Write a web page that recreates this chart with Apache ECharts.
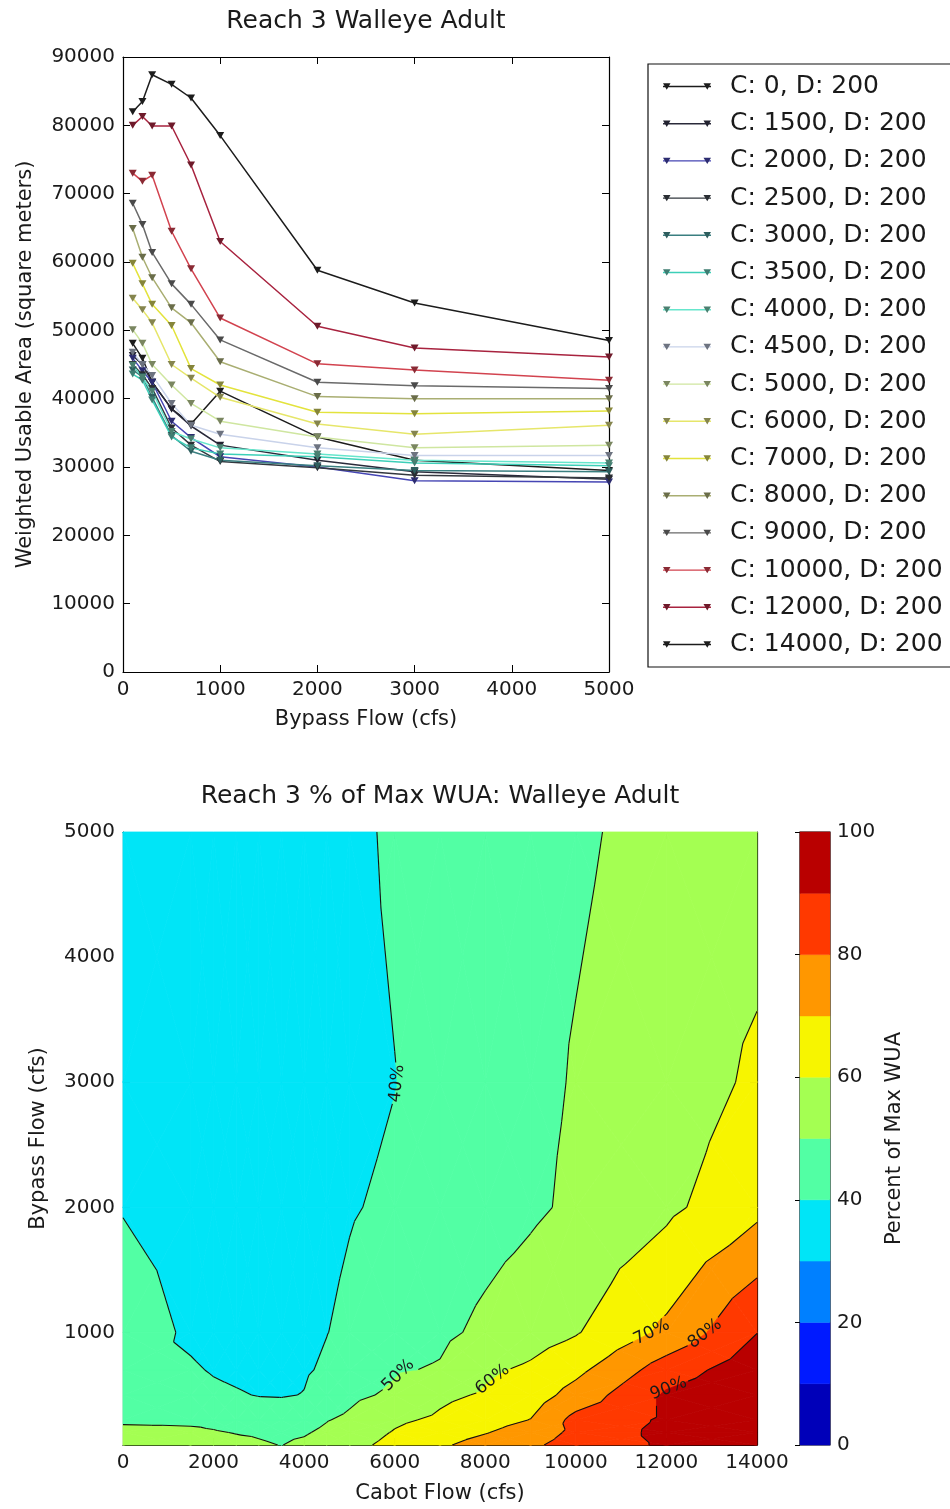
<!DOCTYPE html>
<html><head><meta charset="utf-8">
<script src="https://cdn.jsdelivr.net/npm/echarts@6/dist/echarts.min.js"></script>
<style>html,body{margin:0;padding:0;background:#fff}#c{width:950px;height:1509px}</style>
</head><body><div id="c"></div>
<script>
// ---------------- data ----------------
const bypassFlows = [100, 200, 300, 500, 700, 1000, 2000, 3000, 5000];
const cabotFlows = [0, 1500, 2000, 2500, 3000, 3500, 4000, 4500, 5000, 6000, 7000, 8000, 9000, 10000, 12000, 14000];
const seriesNames = cabotFlows.map(c => 'C: ' + c + ', D: 200');

const wuaC0     = [48100, 45900, 42400, 38500, 36300, 41100, 34400, 31000, 29500];
const wuaC1500  = [46300, 45000, 42400, 38500, 36000, 33200, 31000, 29300, 28200];
const wuaC2000  = [45900, 44100, 42400, 36700, 34300, 31500, 30000, 28000, 27800];
const wuaC2500  = [45000, 43500, 41500, 35700, 33200, 30800, 29900, 28800, 28400];
const wuaC3000  = [44200, 43200, 40200, 34600, 32300, 31000, 30200, 29500, 29300];
const wuaC3500  = [43600, 42700, 39800, 34400, 32800, 31900, 31500, 30600, 30200];
const wuaC4000  = [44900, 43100, 41100, 35200, 34100, 32800, 31900, 31000, 30600];
const wuaC4500  = [46800, 45000, 43400, 39300, 36100, 34800, 32800, 31700, 31700];
const wuaC5000  = [50100, 48100, 45000, 42000, 39300, 36700, 34400, 32800, 33200];
const wuaC6000  = [54700, 53000, 51100, 45000, 43000, 40200, 36300, 34800, 36100];
const wuaC7000  = [59800, 56800, 53800, 50700, 44400, 42000, 38000, 37800, 38200];
const wuaC8000  = [64900, 60700, 57700, 53300, 51100, 45400, 40300, 40000, 40000];
const wuaC9000  = [68600, 65500, 61400, 56800, 53800, 48600, 42400, 41900, 41500];
const wuaC10000 = [73000, 71800, 72700, 64500, 59000, 51800, 45100, 44200, 42700];
const wuaC12000 = [80000, 81300, 79900, 79900, 74200, 63000, 50600, 47400, 46100];
const wuaC14000 = [82000, 83500, 87400, 86000, 84000, 78500, 58800, 54000, 48500];
const wuaByCabot = [wuaC0, wuaC1500, wuaC2000, wuaC2500, wuaC3000, wuaC3500, wuaC4000, wuaC4500,
  wuaC5000, wuaC6000, wuaC7000, wuaC8000, wuaC9000, wuaC10000, wuaC12000, wuaC14000];

const contourLevels = [0, 10, 20, 30, 40, 50, 60, 70, 80, 90, 100];
const contourLineLevels = [40, 50, 60, 70, 80, 90];
const bypassTicksBottom = [1000, 2000, 3000, 4000, 5000];

// ---------------- styles ----------------
const FONT = '"DejaVu Sans", "Bitstream Vera Sans", sans-serif';
const TXT = '#1a1a1a';
const lineColors = ['#1c1c1c', '#2a2a3a', '#4646b4', '#33383f', '#3a7f80', '#3ccfb8', '#66e6cc', '#c9d3ea',
  '#cfe6a0', '#e6e66a', '#e3e33c', '#a9ae72', '#6a6a6a', '#d2434f', '#a8233f', '#1c1c1c'];
const markerColors = ['#1c1c1c', '#222230', '#2c2c70', '#2a2e33', '#2e5e5e', '#3f7d72', '#4a8070', '#6d7380',
  '#7a8660', '#85854e', '#85853a', '#6a6d4a', '#4a4a4a', '#8a2a34', '#6e1a2a', '#1c1c1c'];
const bandColors = ['#0000b9', '#001aff', '#0080ff', '#00e5f7', '#52ffa4', '#a4ff52', '#f7f500', '#ff9700', '#ff3900', '#b90000'];
const labelSpots = [
  { level: 40, c: 6050, b: 2990 },
  { level: 50, c: 6230, b: 600 },
  { level: 60, c: 8210, b: 600 },
  { level: 70, c: 11750, b: 980 },
  { level: 80, c: 12870, b: 980 },
  { level: 90, c: 12080, b: 520 }
];
// legend icons: 48x25 boxes (tiny corner specks fix the bounding box)
const SPECKS = 'M0,0L0.01,0L0,0.01Z M47.99,25L48,25L48,24.99Z ';
const iconLine = 'path://' + SPECKS + 'M0,11.8L48,11.8L48,13.2L0,13.2Z';
const iconMarkers = 'path://' + SPECKS + 'M0,9.3L7.5,9.3L3.75,15.7Z M40.5,9.3L48,9.3L44.25,15.7Z';

// ---------------- contour helpers ----------------
function clipPoly(poly, level, keepAbove) {
  const out = [];
  for (let k = 0; k < poly.length; k++) {
    const a = poly[k], b = poly[(k + 1) % poly.length];
    const ina = keepAbove ? a.v >= level : a.v < level;
    const inb = keepAbove ? b.v >= level : b.v < level;
    if (ina) out.push(a);
    if (ina !== inb) {
      const t = (level - a.v) / (b.v - a.v);
      out.push({ x: a.x + t * (b.x - a.x), y: a.y + t * (b.y - a.y), v: level });
    }
  }
  return out;
}
function triSegment(tri, L) {
  const pts = [];
  for (let k = 0; k < 3; k++) {
    const a = tri[k], b = tri[(k + 1) % 3];
    if ((a.v < L) !== (b.v < L)) {
      const t = (L - a.v) / (b.v - a.v);
      pts.push({ x: a.x + t * (b.x - a.x), y: a.y + t * (b.y - a.y) });
    }
  }
  return pts.length === 2 ? pts : null;
}
function outsideCircle(p, q, c, r) {
  const dx = q[0] - p[0], dy = q[1] - p[1];
  const fx = p[0] - c[0], fy = p[1] - c[1];
  const a = dx * dx + dy * dy, b = 2 * (fx * dx + fy * dy), cc = fx * fx + fy * fy - r * r;
  const disc = b * b - 4 * a * cc;
  if (a === 0 || disc <= 0) return [[p, q]];
  const s = Math.sqrt(disc);
  const t1 = (-b - s) / (2 * a), t2 = (-b + s) / (2 * a);
  if (t2 <= 0 || t1 >= 1) return [[p, q]];
  const lerp = t => [p[0] + dx * t, p[1] + dy * t];
  const out = [];
  if (t1 > 0) out.push([p, lerp(t1)]);
  if (t2 < 1) out.push([lerp(t2), q]);
  return out;
}

function renderContour(params, api) {
  const maxV = Math.max(...wuaByCabot.map(r => Math.max(...r)));
  const P = wuaByCabot.map(r => r.map(v => v / maxV * 100));
  const fills = [];
  const segs = {};
  contourLineLevels.forEach(L => segs[L] = []);
  for (let i = 0; i < cabotFlows.length - 1; i++) {
    for (let j = 0; j < bypassFlows.length - 1; j++) {
      const c0 = cabotFlows[i], c1 = cabotFlows[i + 1], b0 = bypassFlows[j], b1 = bypassFlows[j + 1];
      const A = { x: c0, y: b0, v: P[i][j] }, B = { x: c1, y: b0, v: P[i + 1][j] };
      const C = { x: c1, y: b1, v: P[i + 1][j + 1] }, D = { x: c0, y: b1, v: P[i][j + 1] };
      const M = { x: (c0 + c1) / 2, y: (b0 + b1) / 2, v: (A.v + B.v + C.v + D.v) / 4 };
      [[A, B, M], [B, C, M], [C, D, M], [D, A, M]].forEach(tri => {
        for (let k = 0; k < bandColors.length; k++) {
          const lo = k === 0 ? -Infinity : contourLevels[k];
          const hi = k === bandColors.length - 1 ? Infinity : contourLevels[k + 1];
          let poly = tri;
          if (lo !== -Infinity) poly = clipPoly(poly, lo, true);
          if (poly.length >= 3 && hi !== Infinity) poly = clipPoly(poly, hi, false);
          if (poly.length >= 3) {
            fills.push({
              type: 'polygon', silent: true,
              shape: { points: poly.map(p => api.coord([p.x, p.y])) },
              style: { fill: bandColors[k], stroke: bandColors[k], lineWidth: 0.8 }
            });
          }
        }
        contourLineLevels.forEach(L => {
          const s = triSegment(tri, L);
          if (s) segs[L].push([api.coord([s[0].x, s[0].y]), api.coord([s[1].x, s[1].y])]);
        });
      });
    }
  }
  const labels = [];
  const gaps = {};
  contourLineLevels.forEach(L => gaps[L] = []);
  labelSpots.forEach(sp => {
    const T = api.coord([sp.c, sp.b]);
    let best = null, bestD = Infinity;
    segs[sp.level].forEach(([p, q]) => {
      const dx = q[0] - p[0], dy = q[1] - p[1];
      const len2 = dx * dx + dy * dy;
      let t = len2 > 0 ? ((T[0] - p[0]) * dx + (T[1] - p[1]) * dy) / len2 : 0;
      t = Math.max(0, Math.min(1, t));
      const X = [p[0] + dx * t, p[1] + dy * t];
      const d = Math.hypot(X[0] - T[0], X[1] - T[1]);
      if (d < bestD) { bestD = d; best = { X, dx, dy }; }
    });
    if (!best) return;
    let ang = Math.atan2(-best.dy, best.dx);
    if (ang > Math.PI / 2) ang -= Math.PI;
    if (ang < -Math.PI / 2) ang += Math.PI;
    gaps[sp.level].push(best.X);
    labels.push({
      type: 'text', silent: true, x: best.X[0], y: best.X[1], rotation: ang,
      style: { text: sp.level + '%', fill: '#1a1a1a', fontSize: 17, fontFamily: FONT, align: 'center', verticalAlign: 'middle' }
    });
  });
  const lines = [];
  contourLineLevels.forEach(L => {
    segs[L].forEach(([p, q]) => {
      let parts = [[p, q]];
      gaps[L].forEach(g => {
        const np = [];
        parts.forEach(([a, b]) => outsideCircle(a, b, g, 21).forEach(x => np.push(x)));
        parts = np;
      });
      parts.forEach(([a, b]) => lines.push({
        type: 'line', silent: true,
        shape: { x1: a[0], y1: a[1], x2: b[0], y2: b[1] },
        style: { stroke: '#111', lineWidth: 1.1 }
      }));
    });
  });
  return { type: 'group', children: fills.concat(lines, labels) };
}

function renderColorbar(params, api) {
  const k = params.dataIndex;
  const lo = api.value(1), hi = api.value(2);
  const p0 = api.coord([0, hi]), p1 = api.coord([1, lo]);
  return {
    type: 'rect', silent: true,
    shape: { x: p0[0], y: p0[1], width: p1[0] - p0[0], height: p1[1] - p0[1] },
    style: { fill: bandColors[k], stroke: bandColors[k], lineWidth: 0.5 }
  };
}

// ---------------- option ----------------
const plain = v => String(v);
const axisText = { color: TXT, fontSize: 20, fontFamily: FONT, formatter: plain };
const nameText = { color: TXT, fontSize: 21, fontFamily: FONT };
const tickIn = { show: true, inside: true, length: 7, lineStyle: { color: '#000', width: 1 } };
const axLine = { show: true, onZero: false, lineStyle: { color: '#000', width: 1.2 } };

const chart = echarts.init(document.getElementById('c'), null, { renderer: 'canvas' });

const lineSeries = cabotFlows.map((c, i) => ({
  type: 'line', name: seriesNames[i], xAxisIndex: 0, yAxisIndex: 0,
  data: bypassFlows.map((b, k) => [b, wuaByCabot[i][k]]),
  symbol: 'triangle', symbolRotate: 180, symbolSize: [8, 7],
  lineStyle: { color: lineColors[i], width: 1.5 },
  itemStyle: { color: markerColors[i] },
  emphasis: { disabled: true }, z: 3
}));

const legendCommon = {
  orient: 'vertical', left: 648, top: 64,
  itemWidth: 48, itemHeight: 25, itemGap: 12.2, selectedMode: false
};

const option = {
  animation: false,
  backgroundColor: '#ffffff',
  title: [
    { text: 'Reach 3 Walleye Adult', left: 366, top: 9, textAlign: 'center', padding: 0,
      textStyle: { fontSize: 25, fontWeight: 'normal', color: TXT, fontFamily: FONT } },
    { text: 'Reach 3 % of Max WUA: Walleye Adult', left: 440, top: 784, textAlign: 'center', padding: 0,
      textStyle: { fontSize: 25, fontWeight: 'normal', color: TXT, fontFamily: FONT } }
  ],
  legend: [
    Object.assign({}, legendCommon, {
      padding: [10, 45, 10, 15],
      icon: iconLine,
      itemStyle: { borderWidth: 0 },
      borderColor: '#111', borderWidth: 1.2, backgroundColor: '#fff',
      textStyle: { fontSize: 25, lineHeight: 25, color: TXT, fontFamily: FONT, padding: [0, 0, 0, 14] },
      data: seriesNames.map((n, i) => ({ name: n, itemStyle: { color: lineColors[i] } }))
    }),
    Object.assign({}, legendCommon, {
      padding: [10, 0, 10, 15],
      icon: iconMarkers,
      itemStyle: { borderWidth: 0 },
      formatter: () => '',
      textStyle: { fontSize: 25, lineHeight: 25 },
      data: seriesNames.map((n, i) => ({ name: n, itemStyle: { color: markerColors[i] } }))
    })
  ],
  grid: [
    { left: 123, top: 57, width: 486, height: 615, show: false },
    { left: 123, top: 832, width: 634, height: 613, show: false },
    { left: 800, top: 832, width: 30, height: 613, show: true, borderColor: '#000', borderWidth: 1.2, backgroundColor: 'transparent' }
  ],
  xAxis: [
    { type: 'value', gridIndex: 0, min: 0, max: 5000, interval: 1000, position: 'bottom',
      name: 'Bypass Flow (cfs)', nameLocation: 'middle', nameGap: 37, nameTextStyle: nameText,
      axisLine: axLine, axisTick: tickIn, axisLabel: Object.assign({ margin: 8 }, axisText), splitLine: { show: false } },
    { type: 'value', gridIndex: 0, min: 0, max: 5000, interval: 1000, position: 'top',
      axisLine: axLine, axisTick: tickIn, axisLabel: { show: false }, splitLine: { show: false } },
    { type: 'value', gridIndex: 1, min: 0, max: 14000, interval: 2000, position: 'bottom',
      name: 'Cabot Flow (cfs)', nameLocation: 'middle', nameGap: 38, nameTextStyle: nameText,
      axisLine: axLine, axisTick: tickIn, axisLabel: Object.assign({ margin: 8 }, axisText), splitLine: { show: false } },
    { type: 'value', gridIndex: 1, min: 0, max: 14000, interval: 2000, position: 'top',
      axisLine: axLine, axisTick: tickIn, axisLabel: { show: false }, splitLine: { show: false } },
    { type: 'value', gridIndex: 2, min: 0, max: 1, show: false }
  ],
  yAxis: [
    { type: 'value', gridIndex: 0, min: 0, max: 90000, interval: 10000, position: 'left',
      name: 'Weighted Usable Area (square meters)', nameLocation: 'middle', nameGap: 87, nameTextStyle: nameText,
      axisLine: axLine, axisTick: tickIn, axisLabel: Object.assign({ margin: 8 }, axisText), splitLine: { show: false } },
    { type: 'value', gridIndex: 0, min: 0, max: 90000, interval: 10000, position: 'right',
      axisLine: axLine, axisTick: tickIn, axisLabel: { show: false }, splitLine: { show: false } },
    { type: 'value', gridIndex: 1, min: bypassFlows[0], max: 5000, position: 'left',
      name: 'Bypass Flow (cfs)', nameLocation: 'middle', nameGap: 74, nameTextStyle: nameText,
      axisLine: axLine, axisTick: Object.assign({ customValues: bypassTicksBottom }, tickIn),
      axisLabel: Object.assign({ margin: 8, customValues: bypassTicksBottom }, axisText), splitLine: { show: false } },
    { type: 'value', gridIndex: 1, min: bypassFlows[0], max: 5000, position: 'right',
      axisLine: axLine, axisTick: Object.assign({ customValues: bypassTicksBottom }, tickIn),
      axisLabel: { show: false }, splitLine: { show: false } },
    { type: 'value', gridIndex: 2, min: 0, max: 100, interval: 20, position: 'right',
      name: 'Percent of Max WUA', nameLocation: 'middle', nameRotate: 90, nameGap: 54, nameTextStyle: nameText,
      axisLine: { show: false }, axisTick: { show: true, inside: true, length: 5, lineStyle: { color: '#000' } },
      axisLabel: Object.assign({ margin: 7 }, axisText), splitLine: { show: false } }
  ],
  series: lineSeries.concat([
    { type: 'custom', name: 'contour', xAxisIndex: 2, yAxisIndex: 2, data: [[0, bypassFlows[0]]],
      renderItem: renderContour, silent: true, z: 1 },
    { type: 'custom', name: 'colorbar', xAxisIndex: 4, yAxisIndex: 4,
      data: contourLevels.slice(0, -1).map((lo, k) => [0, lo, contourLevels[k + 1]]),
      renderItem: renderColorbar, silent: true, z: 1 }
  ])
};
chart.setOption(option);
</script></body></html>
